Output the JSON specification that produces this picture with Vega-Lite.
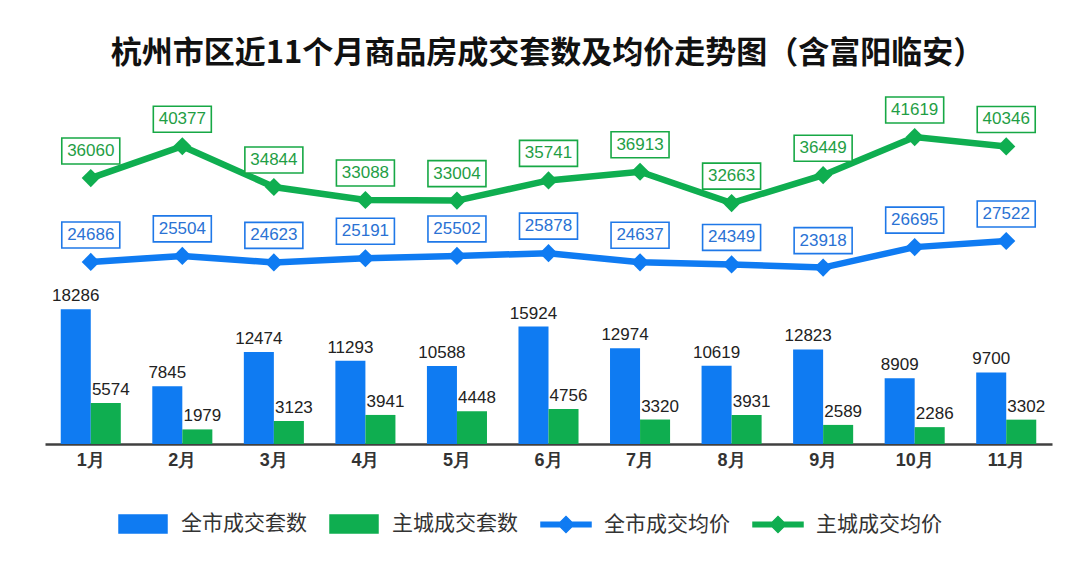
{
  "$schema": "https://vega.github.io/schema/vega-lite/v6.json",
  "width": 1007,
  "height": 354,
  "autosize": {"type": "none"},
  "padding": {"left": 45, "top": 90, "right": 28, "bottom": 142},
  "background": "white",
  "config": {"view": {"stroke": null}},
  "title": {
    "text": "杭州市区近11个月商品房成交套数及均价走势图（含富阳临安）",
    "font": "Noto Sans CJK SC",
    "fontSize": 31,
    "fontWeight": "bold",
    "color": "#111111",
    "anchor": "middle",
    "baseline": "middle",
    "dx": -1,
    "dy": 19,
    "offset": 24
  },
  "data": {
    "values": [
      {"month": "1月", "series": "全市成交套数", "kind": "bar", "value": 18286},
      {"month": "2月", "series": "全市成交套数", "kind": "bar", "value": 7845},
      {"month": "3月", "series": "全市成交套数", "kind": "bar", "value": 12474},
      {"month": "4月", "series": "全市成交套数", "kind": "bar", "value": 11293},
      {"month": "5月", "series": "全市成交套数", "kind": "bar", "value": 10588},
      {"month": "6月", "series": "全市成交套数", "kind": "bar", "value": 15924},
      {"month": "7月", "series": "全市成交套数", "kind": "bar", "value": 12974},
      {"month": "8月", "series": "全市成交套数", "kind": "bar", "value": 10619},
      {"month": "9月", "series": "全市成交套数", "kind": "bar", "value": 12823},
      {"month": "10月", "series": "全市成交套数", "kind": "bar", "value": 8909},
      {"month": "11月", "series": "全市成交套数", "kind": "bar", "value": 9700},
      {"month": "1月", "series": "主城成交套数", "kind": "bar", "value": 5574},
      {"month": "2月", "series": "主城成交套数", "kind": "bar", "value": 1979},
      {"month": "3月", "series": "主城成交套数", "kind": "bar", "value": 3123},
      {"month": "4月", "series": "主城成交套数", "kind": "bar", "value": 3941},
      {"month": "5月", "series": "主城成交套数", "kind": "bar", "value": 4448},
      {"month": "6月", "series": "主城成交套数", "kind": "bar", "value": 4756},
      {"month": "7月", "series": "主城成交套数", "kind": "bar", "value": 3320},
      {"month": "8月", "series": "主城成交套数", "kind": "bar", "value": 3931},
      {"month": "9月", "series": "主城成交套数", "kind": "bar", "value": 2589},
      {"month": "10月", "series": "主城成交套数", "kind": "bar", "value": 2286},
      {"month": "11月", "series": "主城成交套数", "kind": "bar", "value": 3302},
      {"month": "1月", "series": "全市成交均价", "kind": "line", "value": 24686},
      {"month": "2月", "series": "全市成交均价", "kind": "line", "value": 25504},
      {"month": "3月", "series": "全市成交均价", "kind": "line", "value": 24623},
      {"month": "4月", "series": "全市成交均价", "kind": "line", "value": 25191},
      {"month": "5月", "series": "全市成交均价", "kind": "line", "value": 25502},
      {"month": "6月", "series": "全市成交均价", "kind": "line", "value": 25878},
      {"month": "7月", "series": "全市成交均价", "kind": "line", "value": 24637},
      {"month": "8月", "series": "全市成交均价", "kind": "line", "value": 24349},
      {"month": "9月", "series": "全市成交均价", "kind": "line", "value": 23918},
      {"month": "10月", "series": "全市成交均价", "kind": "line", "value": 26695},
      {"month": "11月", "series": "全市成交均价", "kind": "line", "value": 27522},
      {"month": "1月", "series": "主城成交均价", "kind": "line", "value": 36060},
      {"month": "2月", "series": "主城成交均价", "kind": "line", "value": 40377},
      {"month": "3月", "series": "主城成交均价", "kind": "line", "value": 34844},
      {"month": "4月", "series": "主城成交均价", "kind": "line", "value": 33088},
      {"month": "5月", "series": "主城成交均价", "kind": "line", "value": 33004},
      {"month": "6月", "series": "主城成交均价", "kind": "line", "value": 35741},
      {"month": "7月", "series": "主城成交均价", "kind": "line", "value": 36913},
      {"month": "8月", "series": "主城成交均价", "kind": "line", "value": 32663},
      {"month": "9月", "series": "主城成交均价", "kind": "line", "value": 36449},
      {"month": "10月", "series": "主城成交均价", "kind": "line", "value": 41619},
      {"month": "11月", "series": "主城成交均价", "kind": "line", "value": 40346}
    ]
  },
  "encoding": {
    "x": {
      "field": "month",
      "type": "nominal",
      "sort": ["1月","2月","3月","4月","5月","6月","7月","8月","9月","10月","11月"],
      "scale": {"paddingInner": 0.344, "paddingOuter": 0.172},
      "axis": {
        "title": null,
        "labelAngle": 0,
        "ticks": false,
        "labelFont": "Liberation Sans",
        "labelFontSize": 18,
        "labelFontWeight": "bold",
        "labelColor": "#333333",
        "labelPadding": 7,
        "domainColor": "#404040",
        "domainWidth": 2.5,
        "grid": false
      }
    },
    "y": {
      "field": "value",
      "type": "quantitative",
      "scale": {"domain": [0, 48000], "nice": false},
      "axis": null
    }
  },
  "layer": [
    {
      "transform": [{"filter": "datum.kind == 'bar'"}],
      "mark": {"type": "bar"},
      "encoding": {
        "xOffset": {"field": "series", "type": "nominal", "scale": {"domain": ["全市成交套数", "主城成交套数"]}},
        "color": {
          "field": "series",
          "type": "nominal",
          "scale": {
            "domain": ["全市成交套数", "主城成交套数", "全市成交均价", "主城成交均价"],
            "range": ["#0f7bf2", "#0fae50", "#0f7bf2", "#0fae50"]
          },
          "legend": {
            "title": null,
            "orient": "none",
            "legendX": 72,
            "legendY": 408,
            "direction": "horizontal",
            "symbolSize": 2500,
            "labelFontSize": 21,
            "labelFont": "Noto Sans CJK SC",
            "labelColor": "#333333",
            "labelOffset": 12,
            "columnPadding": 20,
            "encode": {
              "symbols": {
                "update": {
                  "shape": {"signal": "(datum.value == '全市成交套数' || datum.value == '主城成交套数') ? 'M-0.96,-0.36H0.96V0.36H-0.96Z' : 'M-1,-0.09H1V0.09H-1ZM-0.32,0L0,-0.32L0.32,0L0,0.32Z'"},
                  "fill": {"scale": "color", "field": "value"},
                  "stroke": {"value": "transparent"},
                  "size": {"value": 2500},
                  "opacity": {"value": 1}
                }
              }
            }
          }
        }
      }
    },
    {
      "transform": [{"filter": "datum.kind == 'bar'"}],
      "mark": {
        "type": "text",
        "font": "Liberation Sans",
        "fontSize": 17,
        "color": "#222222",
        "baseline": "alphabetic",
        "dy": -8,
        "dx": {"expr": "datum.series == '主城成交套数' ? 5 : 0"}
      },
      "encoding": {
        "xOffset": {"field": "series", "type": "nominal", "scale": {"domain": ["全市成交套数", "主城成交套数"]}},
        "text": {"field": "value", "type": "quantitative", "format": "d"}
      }
    },
    {
      "transform": [{"filter": "datum.kind == 'line'"}],
      "mark": {"type": "line", "strokeWidth": 6.5},
      "encoding": {
        "color": {"field": "series", "type": "nominal"}
      }
    },
    {
      "transform": [{"filter": "datum.kind == 'line'"}],
      "mark": {"type": "point", "shape": "diamond", "filled": true, "size": 330, "opacity": 1},
      "encoding": {
        "color": {"field": "series", "type": "nominal"}
      }
    },
    {
      "transform": [{"filter": "datum.kind == 'line'"}],
      "mark": {
        "type": "point",
        "shape": "M-1,-0.448H1V0.448H-1Z",
        "size": 3364,
        "filled": true,
        "fill": "white",
        "opacity": 1,
        "strokeWidth": 1.6,
        "stroke": {"expr": "datum.series == '全市成交均价' ? '#1f78e8' : '#17a845'"},
        "yOffset": -27
      }
    },
    {
      "transform": [{"filter": "datum.kind == 'line'"}],
      "mark": {
        "type": "text",
        "font": "Liberation Sans",
        "fontSize": 17,
        "baseline": "middle",
        "align": "center",
        "yOffset": -27,
        "color": {"expr": "datum.series == '全市成交均价' ? '#2a72d4' : '#1f9e45'"}
      },
      "encoding": {
        "text": {"field": "value", "type": "quantitative", "format": "d"}
      }
    }
  ]
}
